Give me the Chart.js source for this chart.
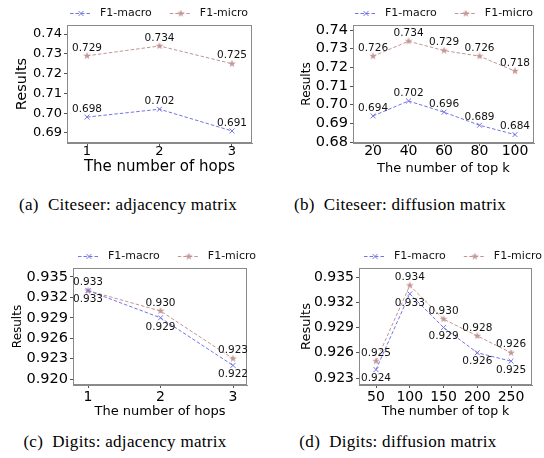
<!DOCTYPE html>
<html>
<head>
<meta charset="utf-8">
<script src="https://cdn.jsdelivr.net/npm/chart.js@4.4.0/dist/chart.umd.min.js"></script>
<style>
  body { margin: 0; background: #fff; width: 544px; height: 458px; position: relative; overflow: hidden; }
  canvas { position: absolute; }
  .cap { position: absolute; font-family: 'Liberation Serif', serif; font-size: 17px; line-height: 18px;
         letter-spacing: 0.3px; color: #000; white-space: pre; transform: translateX(-50%); }
</style>
</head>
<body>
<canvas id="chartA" width="272" height="185" style="left:0;top:0"></canvas>
<canvas id="chartB" width="272" height="185" style="left:272px;top:0"></canvas>
<canvas id="chartC" width="272" height="195" style="left:0;top:225px"></canvas>
<canvas id="chartD" width="272" height="195" style="left:272px;top:225px"></canvas>
<div class="cap" style="left:128px;top:196px">(a)  Citeseer: adjacency matrix</div>
<div class="cap" style="left:400px;top:196px">(b)  Citeseer: diffusion matrix</div>
<div class="cap" style="left:125px;top:433px">(c)  Digits: adjacency matrix</div>
<div class="cap" style="left:398px;top:433px">(d)  Digits: diffusion matrix</div>
<script>
// data
const seriesNames = ['F1-macro', 'F1-micro'];
const hops = [1, 2, 3];
const topKCiteseer = [20, 40, 60, 80, 100];
const topKDigits = [50, 100, 150, 200, 250];

const citeseerAdjMacro = [0.698, 0.702, 0.691];
const citeseerAdjMicro = [0.729, 0.734, 0.725];
const citeseerDiffMacro = [0.694, 0.702, 0.696, 0.689, 0.684];
const citeseerDiffMicro = [0.726, 0.734, 0.729, 0.726, 0.718];
const digitsAdjMacro = [0.933, 0.929, 0.922];
const digitsAdjMicro = [0.933, 0.930, 0.923];
const digitsDiffMacro = [0.924, 0.933, 0.929, 0.926, 0.925];
const digitsDiffMicro = [0.925, 0.934, 0.930, 0.928, 0.926];

const yTicksCiteseerAdj = [0.69, 0.70, 0.71, 0.72, 0.73, 0.74];
const yTicksCiteseerDiff = [0.68, 0.69, 0.70, 0.71, 0.72, 0.73, 0.74];
const yTicksDigitsAdj = [0.920, 0.923, 0.926, 0.929, 0.932, 0.935];
const yTicksDigitsDiff = [0.923, 0.926, 0.929, 0.932, 0.935];

const macroColor = '#7373e6';
const microColor = '#c49494';
const frameColor = '#8a8a8a';

Chart.defaults.font.family = "'DejaVu Sans', sans-serif";
Chart.defaults.color = '#000';

// filled five point star, like matplotlib's '*'
function starImage(color, size) {
  const c = document.createElement('canvas');
  c.width = size; c.height = size;
  const g = c.getContext('2d');
  g.fillStyle = color;
  g.beginPath();
  for (let i = 0; i < 10; i++) {
    const r = i % 2 ? size * 0.2 : size / 2;
    const a = -Math.PI / 2 + i * Math.PI / 5;
    g.lineTo(size / 2 + r * Math.cos(a), size / 2 + r * Math.sin(a));
  }
  g.closePath();
  g.fill();
  return c;
}
const star = starImage(microColor, 8);

function makePanel(id, p) {
  const W = 272, H = p.height;
  const dash = [3.5, 2];
  const datasets = [
    { label: seriesNames[0], values: p.macro, borderColor: macroColor, borderWidth: 1, borderDash: dash,
      pointStyle: 'crossRot', pointRadius: 3.5, pointBorderColor: macroColor, pointBorderWidth: 1,
      pointBackgroundColor: macroColor, labelPos: p.macroPos },
    { label: seriesNames[1], values: p.micro, borderColor: microColor, borderWidth: 1, borderDash: dash,
      pointStyle: star, pointRadius: 4, pointBorderColor: microColor,
      pointBackgroundColor: microColor, labelPos: 'above' }
  ];
  datasets.forEach(d => { d.data = d.values.map((v, k) => ({ x: p.x[k], y: v })); });

  const extras = {
    id: 'extras',
    afterDraw(chart) {
      const ctx = chart.ctx;
      const a = chart.chartArea;
      // box around plot
      ctx.save();
      ctx.strokeStyle = frameColor;
      ctx.lineWidth = 1;
      ctx.strokeRect(Math.round(a.left) + 0.5, Math.round(a.top) + 0.5,
        Math.round(a.right - a.left) - 1, Math.round(a.bottom - a.top) - 1);
      // value labels
      ctx.font = "10.5px 'DejaVu Sans'";
      ctx.fillStyle = '#111';
      ctx.textAlign = 'center';
      ctx.textBaseline = 'middle';
      chart.data.datasets.forEach((ds, i) => {
        chart.getDatasetMeta(i).data.forEach((pt, j) => {
          const dy = ds.labelPos === 'below' ? 9 : -8;
          ctx.fillText(ds.values[j].toFixed(3), pt.x, pt.y + dy);
        });
      });
      // legend
      let x = p.legendX;
      const y = p.legendY;
      const handle = 22;
      ctx.font = "11px 'DejaVu Sans'";
      ctx.textAlign = 'left';
      chart.data.datasets.forEach(ds => {
        ctx.strokeStyle = ds.borderColor;
        ctx.setLineDash(dash);
        ctx.beginPath();
        ctx.moveTo(x, y + 0.5);
        ctx.lineTo(x + handle, y + 0.5);
        ctx.stroke();
        ctx.setLineDash([]);
        ctx.fillStyle = ds.pointBackgroundColor;
        Chart.helpers.drawPoint(ctx, { pointStyle: ds.pointStyle, radius: ds.pointRadius, borderWidth: 1, rotation: 0 },
          x + handle / 2, y + 0.5);
        ctx.fillStyle = '#111';
        ctx.fillText(ds.label, x + handle + 8, y);
        x += handle + 8 + ctx.measureText(ds.label).width + 18;
      });
      ctx.restore();
    }
  };

  new Chart(document.getElementById(id), {
    type: 'line',
    data: { datasets },
    options: {
      responsive: false,
      animation: false,
      devicePixelRatio: 1,
      layout: { padding: { top: p.area.t, right: W - p.area.r, left: 0, bottom: 0 } },
      plugins: { legend: { display: false }, tooltip: { enabled: false } },
      scales: {
        x: {
          type: 'linear', min: p.xMin, max: p.xMax,
          afterBuildTicks: s => { s.ticks = p.x.map(v => ({ value: v })); },
          afterFit: s => { s.height = H - p.area.b; },
          grid: { drawOnChartArea: false, drawTicks: true, tickLength: 3, tickColor: '#555' },
          border: { display: true, color: frameColor },
          ticks: { autoSkip: false, maxRotation: 0, padding: p.xTickPad, font: { size: p.xTickSize }, color: '#000',
                   callback: v => String(v) },
          title: { display: true, text: p.xTitle, font: { size: p.xTitleSize }, color: '#000',
                   padding: { top: 0, bottom: p.xTitlePad } }
        },
        y: {
          type: 'linear', min: p.yMin, max: p.yMax,
          afterBuildTicks: s => { s.ticks = p.yTicks.map(v => ({ value: v })); },
          afterFit: s => { s.width = p.area.l; },
          grid: { drawOnChartArea: false, drawTicks: true, tickLength: 3, tickColor: '#555' },
          border: { display: true, color: frameColor },
          ticks: { autoSkip: false, padding: 2, font: { size: p.yTickSize }, color: '#000',
                   callback: v => v.toFixed(p.dec) },
          title: { display: true, text: 'Results', font: { size: p.yTitleSize }, color: '#000',
                   padding: { top: p.yTitlePad, bottom: 0 } }
        }
      }
    },
    plugins: [extras]
  });
}

makePanel('chartA', {
  height: 185, x: hops, macro: citeseerAdjMacro, micro: citeseerAdjMicro, macroPos: 'above',
  xMin: 0.724, xMax: 3.276, yMin: 0.6849, yMax: 0.7446, yTicks: yTicksCiteseerAdj, dec: 2,
  area: { l: 67, t: 25, r: 252, b: 143 },
  xTickSize: 13, xTickPad: -2, yTickSize: 13, xTitle: 'The number of hops', xTitleSize: 15, xTitlePad: 9,
  yTitleSize: 14.5, yTitlePad: 14, legendX: 70, legendY: 13
});
makePanel('chartB', {
  height: 185, x: topKCiteseer, macro: citeseerDiffMacro, micro: citeseerDiffMicro, macroPos: 'above',
  xMin: 8.7, xMax: 110.7, yMin: 0.6795, yMax: 0.7427, yTicks: yTicksCiteseerDiff, dec: 2,
  area: { l: 81, t: 25, r: 262, b: 143 },
  xTickSize: 14, xTickPad: -3, yTickSize: 14.5, xTitle: 'The number of top k', xTitleSize: 13, xTitlePad: 9,
  yTitleSize: 12, yTitlePad: 28, legendX: 83, legendY: 13
});
makePanel('chartC', {
  height: 195, x: hops, macro: digitsAdjMacro, micro: digitsAdjMicro, macroPos: 'below',
  xMin: 0.793, xMax: 3.193, yMin: 0.91912, yMax: 0.93632, yTicks: yTicksDigitsAdj, dec: 3,
  area: { l: 73, t: 43, r: 247, b: 160 },
  xTickSize: 14, xTickPad: 1, yTickSize: 14.5, xTitle: 'The number of hops', xTitleSize: 13, xTitlePad: 1,
  yTitleSize: 12, yTitlePad: 11, legendX: 78, legendY: 31
});
makePanel('chartD', {
  height: 195, x: topKDigits, macro: digitsDiffMacro, micro: digitsDiffMicro, macroPos: 'below',
  xMin: 24.8, xMax: 281, yMin: 0.92217, yMax: 0.93607, yTicks: yTicksDigitsDiff, dec: 3,
  area: { l: 87, t: 43, r: 260, b: 160 },
  xTickSize: 14, xTickPad: 1, yTickSize: 14, xTitle: 'The number of top k', xTitleSize: 12.5, xTitlePad: 1,
  yTitleSize: 13, yTitlePad: 27, legendX: 92, legendY: 31
});
</script>
</body>
</html>
